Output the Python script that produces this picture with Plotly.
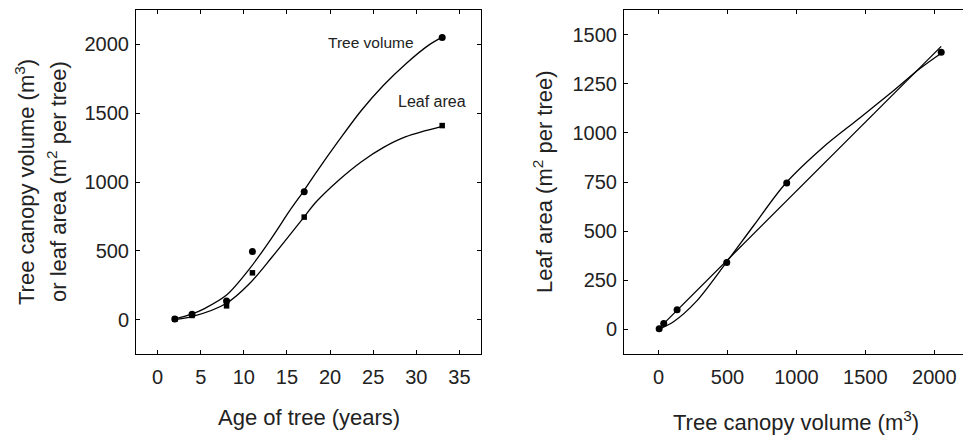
import plotly.graph_objects as go

# Measured data per tree age
age = [2, 4, 8, 11, 17, 33]
tree_volume = [5, 38, 135, 495, 930, 2050]      # m3 per tree
leaf_area = [3, 30, 100, 340, 745, 1410]        # m2 per tree

# Fitted curves: age vs canopy volume and age vs leaf area
fit_age = [2, 4, 5.5, 8, 10.7, 13.3, 15.3, 17, 18.4, 21, 23.6, 26.2, 28.8, 31.4, 33]
fit_volume = [3, 41, 82, 178, 372, 600, 790, 940, 1070, 1300, 1518, 1703, 1860, 1993, 2053]
fit_age_leaf = [2, 4, 8, 10.7, 13.3, 17, 18.4, 21, 23.6, 26.2, 28.8, 33]
fit_leaf = [2, 22, 119, 264, 457, 747, 856, 1013, 1146, 1252, 1330, 1405]

# Leaf area vs canopy volume: linear and sigmoid fits
lin_vol = [0, 2050]
lin_leaf = [3, 1440]
sig_vol = [0, 109, 271, 490, 692, 918, 1196, 1438, 1679, 1896, 2050]
sig_leaf = [0, 39, 140, 339, 530, 740, 928, 1064, 1200, 1327, 1405]

FONT = "Liberation Sans, Arial, sans-serif"
W, H = 963, 437

fig = go.Figure()

curve = dict(color="black", width=1.3, shape="spline", smoothing=0.9)

# Left panel
fig.add_trace(go.Scatter(x=fit_age, y=fit_volume, mode="lines", line=curve,
                         xaxis="x", yaxis="y", showlegend=False, hoverinfo="skip"))
fig.add_trace(go.Scatter(x=fit_age_leaf, y=fit_leaf, mode="lines", line=curve,
                         xaxis="x", yaxis="y", showlegend=False, hoverinfo="skip"))
fig.add_trace(go.Scatter(x=age, y=leaf_area, mode="markers", marker=dict(symbol="square", size=5.5, color="black"),
                         xaxis="x", yaxis="y", showlegend=False))
fig.add_trace(go.Scatter(x=age, y=tree_volume, mode="markers", marker=dict(symbol="circle", size=7, color="black"),
                         xaxis="x", yaxis="y", showlegend=False))

# Right panel
fig.add_trace(go.Scatter(x=lin_vol, y=lin_leaf, mode="lines", line=dict(color="black", width=1.3),
                         xaxis="x2", yaxis="y2", showlegend=False, hoverinfo="skip"))
fig.add_trace(go.Scatter(x=sig_vol, y=sig_leaf, mode="lines", line=curve,
                         xaxis="x2", yaxis="y2", showlegend=False, hoverinfo="skip"))
fig.add_trace(go.Scatter(x=tree_volume, y=leaf_area, mode="markers", marker=dict(symbol="circle", size=7, color="black"),
                         xaxis="x2", yaxis="y2", showlegend=False))

def px_x(p):
    return p / W

def px_y(p):
    return 1 - p / H

axis_common = dict(showgrid=False, zeroline=False, showline=True, linecolor="black", linewidth=1,
                   ticks="inside", ticklen=4, tickcolor="black", tickwidth=1,
                   tickfont=dict(family=FONT, size=20, color="#222"))

fig.update_layout(
    width=W, height=H,
    margin=dict(l=0, r=0, t=0, b=0),
    paper_bgcolor="white", plot_bgcolor="white",
    xaxis=dict(domain=[px_x(136), px_x(481)], range=[-2.5, 37.5], tickvals=[0, 5, 10, 15, 20, 25, 30, 35],
               mirror="ticks", anchor="y", ticklabelstandoff=5, **axis_common),
    yaxis=dict(domain=[px_y(354), px_y(10)], range=[-250, 2250], tickvals=[0, 500, 1000, 1500, 2000],
               mirror="ticks", anchor="x", ticklabelstandoff=2, **axis_common),
    xaxis2=dict(domain=[px_x(624), 1.0], range=[-250, 2208], tickvals=[0, 500, 1000, 1500, 2000],
                mirror="ticks", anchor="y2", ticklabelstandoff=5, **axis_common),
    yaxis2=dict(domain=[px_y(354), px_y(10)], range=[-125, 1625], tickvals=[0, 250, 500, 750, 1000, 1250, 1500],
                mirror=False, anchor="x2", ticklabelstandoff=2, **axis_common),
)

title_font = dict(family=FONT, size=22, color="#222")
annotations = [
    dict(text="Age of tree (years)", xref="paper", yref="paper", x=px_x(308.5), y=px_y(417),
         xanchor="center", yanchor="middle", showarrow=False, font=title_font),
    dict(text="Tree canopy volume (m<sup>3</sup>)", xref="paper", yref="paper", x=px_x(796), y=px_y(421),
         xanchor="center", yanchor="middle", showarrow=False, font=title_font),
    dict(text="Tree canopy volume (m<sup>3</sup>)", xref="paper", yref="paper", x=px_x(25), y=px_y(182),
         xanchor="center", yanchor="middle", textangle=-90, showarrow=False, font=title_font),
    dict(text="or leaf area (m<sup>2</sup> per tree)", xref="paper", yref="paper", x=px_x(57), y=px_y(182),
         xanchor="center", yanchor="middle", textangle=-90, showarrow=False, font=title_font),
    dict(text="Leaf area (m<sup>2</sup> per tree)", xref="paper", yref="paper", x=px_x(543), y=px_y(182),
         xanchor="center", yanchor="middle", textangle=-90, showarrow=False, font=title_font),
    dict(text="Tree volume", xref="x", yref="y", x=24.7, y=2017, xanchor="center", yanchor="middle",
         showarrow=False, font=dict(family=FONT, size=15.5, color="#222")),
    dict(text="Leaf area", xref="x", yref="y", x=31.8, y=1582, xanchor="center", yanchor="middle",
         showarrow=False, font=dict(family=FONT, size=16, color="#222")),
]
fig.update_layout(annotations=annotations)

fig.write_html("out.html")
